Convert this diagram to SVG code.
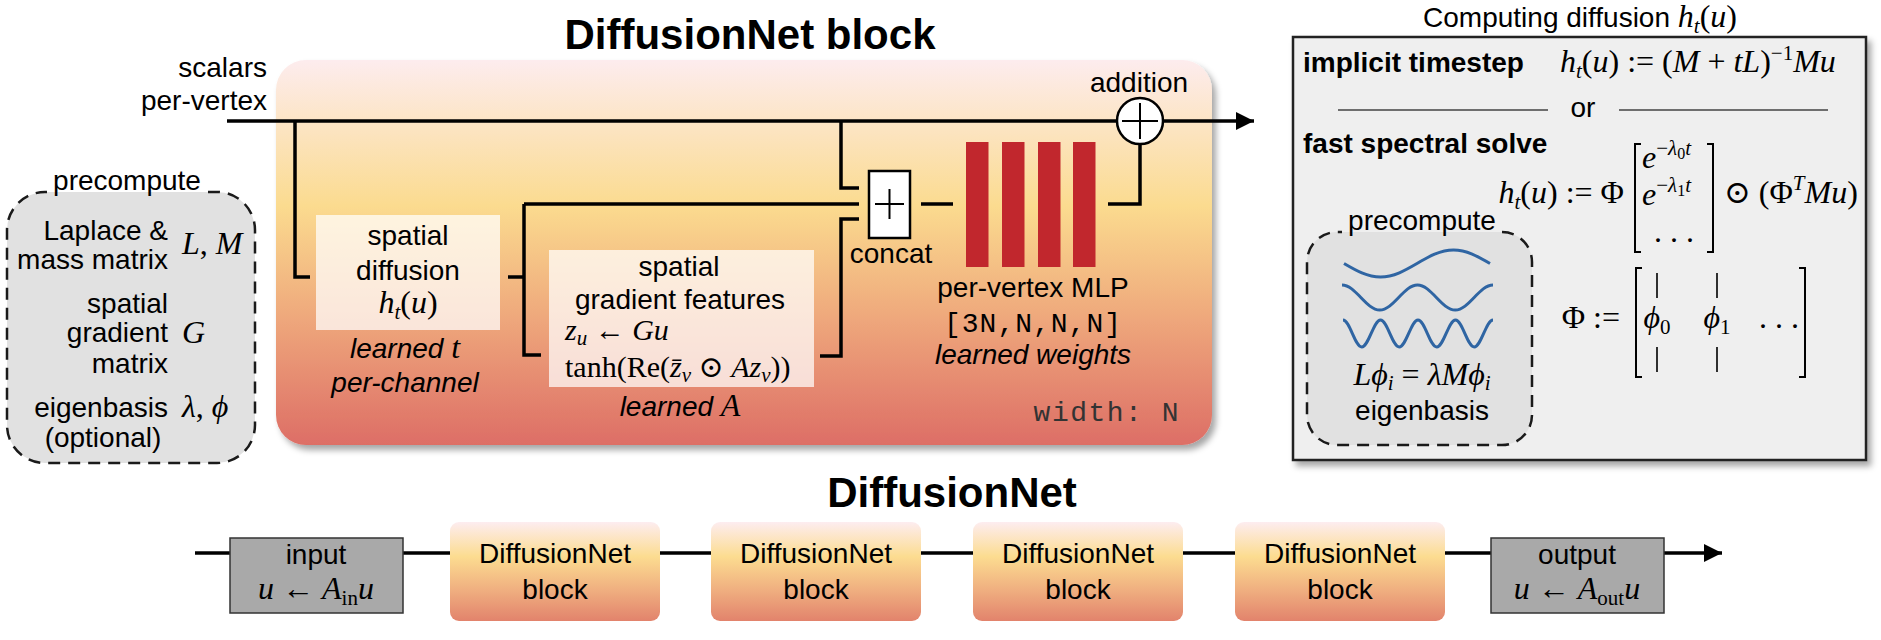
<svg xmlns="http://www.w3.org/2000/svg" width="1881" height="640" viewBox="0 0 1881 640">
<defs>
<linearGradient id="gb" x1="0" y1="0" x2="0" y2="1">
<stop offset="0" stop-color="#fdecee"/>
<stop offset="0.38" stop-color="#fbdb8f"/>
<stop offset="0.68" stop-color="#eea67b"/>
<stop offset="1" stop-color="#dd6e66"/>
</linearGradient>
<linearGradient id="gs" x1="0" y1="0" x2="0" y2="1">
<stop offset="0" stop-color="#fdedf0"/>
<stop offset="0.35" stop-color="#fcdc90"/>
<stop offset="0.7" stop-color="#efad7f"/>
<stop offset="1" stop-color="#e2836c"/>
</linearGradient>
<filter id="sh" x="-5%" y="-5%" width="112%" height="115%">
<feDropShadow dx="4" dy="5" stdDeviation="3" flood-color="#000" flood-opacity="0.35"/>
</filter>
<marker id="ah" viewBox="0 0 18 18" refX="18" refY="9" markerWidth="18" markerHeight="18" markerUnits="userSpaceOnUse" orient="auto">
<path d="M0,0 L18,9 L0,18 Z" fill="#000"/>
</marker>
<style>
.t{font-family:"Liberation Sans","DejaVu Sans",sans-serif;font-size:28px;fill:#000}
.b{font-weight:bold}
.it{font-style:italic}
.m{font-family:"Liberation Serif","DejaVu Serif",serif;font-size:32px;fill:#000}
.m2{font-size:30px}
.i{font-style:italic}
.s{font-size:21px}
.ss{font-size:16px}
.mono{font-family:"Liberation Mono","DejaVu Sans Mono",monospace;font-size:28px}
.c{text-anchor:middle}
.e{text-anchor:end}
.w{stroke:#000;stroke-width:3.5;fill:none}
.thin{stroke:#000;stroke-width:2;fill:none}
.dash{fill:#e1e1e1;stroke:#1a1a1a;stroke-width:2.5;stroke-dasharray:12 8}
.wave{fill:none;stroke:#2f65a3;stroke-width:3}
.sb{fill:#a9a9a9;stroke:#333;stroke-width:1.5}
.inner{fill:#fff;fill-opacity:0.72}
.bar{fill:#c1272d}
</style>
</defs>
<rect width="1881" height="640" fill="#fff"/>

<!-- DiffusionNet block -->
<g id="block-title">
<text x="750" y="49" class="t b c" style="font-size:42px">DiffusionNet block</text>
</g>
<g id="block">
<rect x="276" y="60" width="936" height="385" rx="30" fill="url(#gb)" filter="url(#sh)"/>
<text x="1180" y="421" class="mono e" fill="#333" letter-spacing="1.5">width: N</text>
</g>

<g id="input-label">
<text x="267" y="77" class="t e">scalars</text>
<text x="267" y="110" class="t e">per-vertex</text>
</g>

<!-- left precompute -->
<g id="precompute-left">
<path class="dash" d="M208,192 H217 A38,38 0 0 1 255,230 V425 A38,38 0 0 1 217,463 H45 A38,38 0 0 1 7,425 V230 A38,38 0 0 1 45,192 H47"/>
<text x="127" y="190" class="t c">precompute</text>
<text x="168" y="240" class="t e">Laplace &amp;</text>
<text x="168" y="269" class="t e">mass matrix</text>
<text x="182" y="254" class="m"><tspan class="i">L</tspan>, <tspan class="i">M</tspan></text>
<text x="168" y="313" class="t e">spatial</text>
<text x="168" y="342" class="t e">gradient</text>
<text x="168" y="373" class="t e">matrix</text>
<text x="182" y="343" class="m i">G</text>
<text x="168" y="417" class="t e">eigenbasis</text>
<text x="103" y="447" class="t c">(optional)</text>
<text x="182" y="417" class="m"><tspan class="i">λ</tspan>, <tspan class="i">ϕ</tspan></text>
</g>

<!-- connectors -->
<g id="connectors">
<path class="w" d="M227,121 H1254" marker-end="url(#ah)"/>
<path class="w" d="M295,121 V277 H310"/>
<path class="w" d="M508,277 H524"/>
<path class="w" d="M524,204 V355 H541"/>
<path class="w" d="M524,204 H859"/>
<path class="w" d="M841,121 V188 H859"/>
<path class="w" d="M820,356 H841 V219 H859"/>
<path class="w" d="M921,204 H953"/>
<path class="w" d="M1108,204 H1140 V144"/>
<path class="w" d="M195,553 H1722" marker-end="url(#ah)"/>
</g>

<g id="spatial-diffusion">
<rect x="316" y="215" width="184" height="115" class="inner"/>
<text x="408" y="245" class="t c">spatial</text>
<text x="408" y="280" class="t c">diffusion</text>
<text x="408" y="313" class="m c"><tspan class="i">h</tspan><tspan class="i s" dy="6">t</tspan><tspan dy="-6">(</tspan><tspan class="i">u</tspan>)</text>
<text x="405" y="358" class="t c"><tspan class="it">learned </tspan><tspan class="m i">t</tspan></text>
<text x="405" y="392" class="t c it">per-channel</text>
</g>

<g id="gradient-features">
<rect x="549" y="250" width="265" height="137" class="inner"/>
<text x="679" y="276" class="t c">spatial</text>
<text x="680" y="309" class="t c">gradient features</text>
<text x="565" y="340" class="m m2"><tspan class="i">z</tspan><tspan class="i s" dy="5">u</tspan><tspan dy="-5"> ← </tspan><tspan class="i">Gu</tspan></text>
<text x="565" y="377" class="m m2">tanh(Re(<tspan class="i">z̄</tspan><tspan class="i s" dy="5">v</tspan><tspan dy="-5"> ⊙ </tspan><tspan class="i">Az</tspan><tspan class="i s" dy="5">v</tspan><tspan dy="-5">))</tspan></text>
<text x="680" y="416" class="t c"><tspan class="it">learned </tspan><tspan class="m i">A</tspan></text>
</g>

<g id="concat">
<rect x="869" y="171" width="41" height="67" fill="#fff" stroke="#000" stroke-width="2.5"/>
<path class="thin" d="M875,204 H904 M889.5,189 V219"/>
<text x="891" y="263" class="t c">concat</text>
</g>

<g id="mlp">
<rect x="966" y="142" width="22.5" height="125" class="bar"/>
<rect x="1002" y="142" width="22.5" height="125" class="bar"/>
<rect x="1038" y="142" width="22.5" height="125" class="bar"/>
<rect x="1073" y="142" width="22.5" height="125" class="bar"/>
<text x="1033" y="297" class="t c">per-vertex MLP</text>
<text x="1033" y="332" class="mono c" letter-spacing="1">[3N,N,N,N]</text>
<text x="1033" y="364" class="t c it">learned weights</text>
</g>

<g id="addition">
<circle cx="1140" cy="121" r="23" fill="#fff" stroke="#000" stroke-width="2.5"/>
<path class="thin" d="M1122,121 H1158 M1140,103 V139"/>
<text x="1139" y="92" class="t c">addition</text>
</g>

<!-- Computing diffusion -->
<g id="computing-diffusion">
<text x="1580" y="27" class="t c">Computing diffusion <tspan class="m i">h</tspan><tspan class="m i s" dy="6">t</tspan><tspan class="m" dy="-6">(</tspan><tspan class="m i">u</tspan><tspan class="m">)</tspan></text>
<rect x="1293" y="37" width="573" height="423" fill="#efefef" stroke="#222" stroke-width="2.5" filter="url(#sh)"/>
<text x="1303" y="72" class="t b">implicit timestep</text>
<text x="1560" y="72" class="m"><tspan class="i">h</tspan><tspan class="i s" dy="6">t</tspan><tspan dy="-6">(</tspan><tspan class="i">u</tspan>) := (<tspan class="i">M</tspan> + <tspan class="i">tL</tspan>)<tspan class="s" dy="-12">−1</tspan><tspan class="i" dy="12">Mu</tspan></text>
<path d="M1338,110 H1548 M1619,110 H1828" stroke="#444" stroke-width="1.3"/>
<text x="1583" y="117" class="t c">or</text>
<text x="1303" y="153" class="t b">fast spectral solve</text>
<text x="1624" y="203" class="m e"><tspan class="i">h</tspan><tspan class="i s" dy="6">t</tspan><tspan dy="-6">(</tspan><tspan class="i">u</tspan>) := Φ</text>
<path class="thin" d="M1641,144 H1635 V252 H1641 M1707,144 H1713 V252 H1707"/>
<text x="1642" y="168" class="m"><tspan class="i">e</tspan><tspan class="s" dy="-13">−</tspan><tspan class="s i">λ</tspan><tspan class="ss" dy="4">0</tspan><tspan class="s i" dy="-4">t</tspan></text>
<text x="1642" y="205" class="m"><tspan class="i">e</tspan><tspan class="s" dy="-13">−</tspan><tspan class="s i">λ</tspan><tspan class="ss" dy="4">1</tspan><tspan class="s i" dy="-4">t</tspan></text>
<text x="1674" y="242" class="m c">. . .</text>
<text x="1724" y="203" class="m">⊙ (Φ<tspan class="s i" dy="-13">T</tspan><tspan class="i" dy="13">Mu</tspan>)</text>
<text x="1620" y="328" class="m e">Φ :=</text>
<path class="thin" d="M1642,268 H1636 V377 H1642 M1799,268 H1805 V377 H1799"/>
<path d="M1657,273 V298 M1657,347 V372 M1717,273 V298 M1717,347 V372" stroke="#000" stroke-width="1.6"/>
<text x="1657" y="328" class="m c"><tspan class="i">ϕ</tspan><tspan class="s" dy="6">0</tspan></text>
<text x="1717" y="328" class="m c"><tspan class="i">ϕ</tspan><tspan class="s" dy="6">1</tspan></text>
<text x="1779" y="328" class="m c">. . .</text>
</g>

<g id="precompute-eigenbasis">
<path class="dash" d="M1502,232 A30,30 0 0 1 1532,262 V415 A30,30 0 0 1 1502,445 H1337 A30,30 0 0 1 1307,415 V262 A30,30 0 0 1 1337,232 H1342"/>
<text x="1422" y="230" class="t c">precompute</text>
<path class="wave" d="M1344,263.5 C1356.2,270.6 1367.3,277 1380.5,277 C1407.1,277 1426.9,250 1453.5,250 C1466.7,250 1477.8,256.4 1490,263.5"/>
<path class="wave" d="M1342,285 C1355.7,285 1366,310 1379.75,310 C1393.5,310 1403.8,285 1417.5,285 C1431.2,285 1441.5,310 1455.25,310 C1469,310 1479.3,285 1493,285"/>
<path class="wave" d="M1343,320 C1349.8,320 1355,347 1361.75,347 C1368.6,347 1373.7,320 1380.5,320 C1387.3,320 1392.5,347 1399.25,347 C1406.1,347 1411.2,320 1418,320 C1424.8,320 1430,347 1436.75,347 C1443.6,347 1448.7,320 1455.5,320 C1462.3,320 1467.5,347 1474.25,347 C1481.1,347 1486.2,320 1493,320"/>
<text x="1422" y="385" class="m c"><tspan class="i">Lϕ</tspan><tspan class="i s" dy="5">i</tspan><tspan dy="-5"> = </tspan><tspan class="i">λMϕ</tspan><tspan class="i s" dy="5">i</tspan></text>
<text x="1422" y="420" class="t c">eigenbasis</text>
</g>

<!-- DiffusionNet pipeline -->
<g id="net-title">
<text x="952" y="507" class="t b c" style="font-size:42px">DiffusionNet</text>
</g>
<g id="input">
<rect x="230" y="538" width="173" height="75" class="sb"/>
<text x="316" y="564" class="t c">input</text>
<text x="316" y="599" class="m c"><tspan class="i">u</tspan> ← <tspan class="i">A</tspan><tspan class="s" dy="6">in</tspan><tspan class="i" dy="-6">u</tspan></text>
</g>
<g id="block1">
<rect x="450" y="522" width="210" height="99" rx="9" fill="url(#gs)"/>
<text x="555" y="563" class="t c">DiffusionNet</text>
<text x="555" y="599" class="t c">block</text>
</g>
<g id="block2">
<rect x="711" y="522" width="210" height="99" rx="9" fill="url(#gs)"/>
<text x="816" y="563" class="t c">DiffusionNet</text>
<text x="816" y="599" class="t c">block</text>
</g>
<g id="block3">
<rect x="973" y="522" width="210" height="99" rx="9" fill="url(#gs)"/>
<text x="1078" y="563" class="t c">DiffusionNet</text>
<text x="1078" y="599" class="t c">block</text>
</g>
<g id="block4">
<rect x="1235" y="522" width="210" height="99" rx="9" fill="url(#gs)"/>
<text x="1340" y="563" class="t c">DiffusionNet</text>
<text x="1340" y="599" class="t c">block</text>
</g>
<g id="output">
<rect x="1491" y="538" width="173" height="75" class="sb"/>
<text x="1577" y="564" class="t c">output</text>
<text x="1577" y="599" class="m c"><tspan class="i">u</tspan> ← <tspan class="i">A</tspan><tspan class="s" dy="6">out</tspan><tspan class="i" dy="-6">u</tspan></text>
</g>
</svg>
